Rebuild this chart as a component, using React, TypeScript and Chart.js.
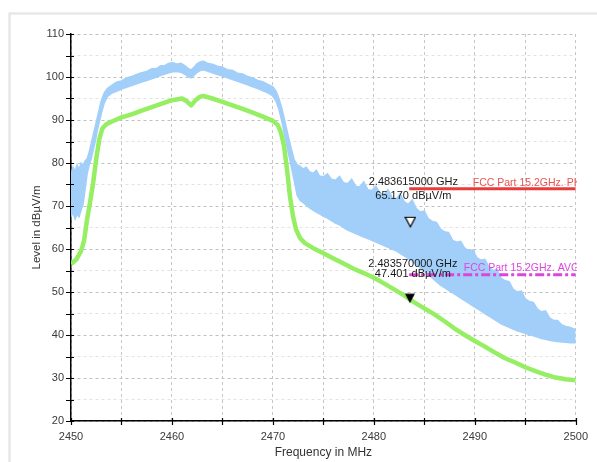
import React, { useEffect, useRef } from 'react';
import { Chart, registerables } from 'chart.js';

Chart.register(...registerables);

// ---- Data ----
const pkFreq = [
  2450.0, 2450.2, 2450.4, 2450.6, 2450.8, 2451.0, 2451.2, 2451.4, 2451.6, 2451.8,
  2452.0, 2452.2, 2452.4, 2452.6, 2452.8, 2453.0, 2453.3, 2453.6, 2454.0, 2454.5,
  2455.0, 2455.5, 2456.0, 2456.5, 2457.0, 2457.5, 2458.0, 2458.5, 2458.9, 2459.3,
  2459.7, 2460.1, 2460.5, 2460.9, 2461.3, 2461.6, 2461.9, 2462.2, 2462.5, 2462.8,
  2463.1, 2463.5, 2464.0, 2464.5, 2465.0, 2465.5, 2466.0, 2466.5, 2467.0, 2467.5,
  2468.0, 2468.5, 2469.0, 2469.5, 2470.0, 2470.3, 2470.6, 2470.9, 2471.2, 2471.5,
  2471.8, 2472.1, 2472.4, 2472.7, 2473.0, 2473.3, 2473.6, 2474.0, 2474.3, 2474.6,
  2475.0, 2475.4, 2475.8, 2476.2, 2476.6, 2477.0, 2477.4, 2477.8, 2478.2, 2478.6,
  2479.0, 2479.4, 2479.8, 2480.2, 2480.6, 2481.0, 2481.4, 2481.8, 2482.2, 2482.6,
  2483.0, 2483.4, 2483.8, 2484.2, 2484.6, 2485.0, 2485.4, 2485.8, 2486.2, 2486.6,
  2487.0, 2487.4, 2487.8, 2488.2, 2488.6, 2489.0, 2489.4, 2489.8, 2490.2, 2490.6,
  2491.0, 2491.4, 2491.8, 2492.2, 2492.6, 2493.0, 2493.4, 2493.8, 2494.2, 2494.6,
  2495.0, 2495.4, 2495.8, 2496.2, 2496.6, 2497.0, 2497.4, 2497.8, 2498.2, 2498.6,
  2499.0, 2499.4, 2499.8, 2500.0,
];
const pkHigh = [
  77.0, 79.0, 78.0, 79.5, 78.5, 80.0, 79.5, 80.5, 81.0, 82.5,
  84.5, 86.5, 88.5, 90.5, 92.5, 94.5, 96.3, 97.3, 98.0, 98.8,
  99.1, 99.8, 100.1, 100.6, 101.0, 101.3, 101.9, 102.0, 102.6, 102.7,
  103.2, 103.3, 103.0, 103.2, 102.6, 102.0, 101.6, 102.3, 103.1, 103.5,
  103.7, 103.2, 103.0, 102.5, 102.3, 101.7, 101.5, 100.9, 100.7, 100.1,
  99.8, 99.2, 98.9, 98.3, 97.7, 96.8, 95.0, 92.6, 89.6, 86.4,
  83.5, 80.8, 79.6, 79.2, 78.6, 79.0, 78.0, 77.6, 78.3, 77.0,
  76.8, 77.5, 76.2, 76.0, 76.9, 75.4, 75.2, 76.2, 74.6, 74.4,
  75.6, 73.8, 73.6, 74.6, 73.0, 72.6, 73.8, 72.0, 71.6, 72.8,
  71.0, 70.4, 71.4, 69.4, 68.6, 68.8, 67.0, 66.4, 66.2, 64.6,
  64.0, 63.8, 62.0, 61.6, 61.8, 60.2, 59.6, 59.8, 58.0, 57.4,
  57.6, 55.8, 55.0, 55.2, 53.2, 52.6, 52.4, 50.6, 50.0, 50.2,
  48.4, 47.8, 47.6, 46.0, 45.4, 45.6, 44.0, 43.4, 43.4, 42.4,
  42.0, 41.8, 41.4, 41.2,
];
const pkLow = [
  67.5, 68.5, 67.0, 68.0, 67.5, 69.0, 70.5, 74.0, 77.5, 79.5,
  81.0, 83.0, 85.0, 87.5, 89.5, 91.5, 94.0, 95.4, 96.2, 96.7,
  97.2, 97.6, 98.0, 98.4, 98.8, 99.2, 99.6, 100.0, 100.4, 100.7,
  101.0, 101.2, 101.3, 101.1, 100.6, 100.1, 99.8, 100.4, 101.1, 101.5,
  101.7, 101.4, 101.0, 100.6, 100.2, 99.8, 99.4, 99.0, 98.6, 98.2,
  97.7, 97.3, 96.8, 96.3, 95.6, 94.4, 92.5, 89.5, 86.0, 82.6,
  79.4, 76.0, 72.5, 71.3, 70.8, 70.2, 69.6, 69.0, 68.6, 68.2,
  67.6, 67.2, 66.6, 66.0, 65.6, 65.0, 64.4, 64.0, 63.6, 63.2,
  62.8, 62.4, 62.0, 61.6, 61.2, 60.8, 60.4, 60.0, 59.6, 59.0,
  58.4, 57.8, 57.2, 56.4, 55.6, 54.8, 54.0, 53.2, 52.4, 51.6,
  51.0, 50.4, 49.8, 49.2, 48.6, 48.0, 47.4, 46.8, 46.2, 45.6,
  45.0, 44.4, 43.8, 43.2, 42.6, 42.2, 41.8, 41.4, 41.0, 40.7,
  40.4, 40.1, 39.8, 39.5, 39.2, 39.0, 38.8, 38.6, 38.5, 38.4,
  38.3, 38.2, 38.2, 38.2,
];

const avgFreq = [
  2450.0, 2450.5, 2451.0, 2451.3, 2451.6, 2451.9, 2452.2, 2452.5, 2452.8, 2453.1,
  2453.5, 2454.0, 2455.0, 2456.0, 2457.0, 2458.0, 2459.0, 2460.0, 2461.0, 2461.5,
  2461.9, 2462.3, 2462.7, 2463.1, 2464.0, 2465.0, 2466.0, 2467.0, 2468.0, 2469.0,
  2470.0, 2470.5, 2470.8, 2471.1, 2471.4, 2471.7, 2472.0, 2472.3, 2472.7, 2473.2,
  2474.0, 2475.0, 2476.0, 2477.0, 2478.0, 2479.0, 2480.0, 2481.0, 2482.0, 2483.0,
  2484.0, 2485.0, 2486.0, 2487.0, 2488.0, 2489.0, 2490.0, 2491.0, 2492.0, 2493.0,
  2494.0, 2495.0, 2496.0, 2497.0, 2498.0, 2499.0, 2500.0,
];
const avgLevel = [
  56.5, 57.5, 59.5, 62.0, 67.0, 71.0, 75.5, 81.0, 85.5, 88.0,
  89.0, 89.6, 90.6, 91.3, 92.2, 93.0, 93.8, 94.6, 95.0, 94.3,
  93.4, 94.5, 95.3, 95.6, 95.0, 94.2, 93.4, 92.6, 91.7, 90.8,
  89.8, 88.8, 87.0, 84.0, 78.5, 72.0, 67.5, 64.5, 62.5, 61.3,
  60.2, 59.0, 57.8, 56.6, 55.4, 54.4, 53.3, 52.0, 50.6, 49.2,
  47.6, 46.2, 44.8, 43.2, 41.5, 40.0, 38.6, 37.3, 35.9, 34.6,
  33.6, 32.5, 31.6, 30.8, 30.1, 29.7, 29.5,
];

const limitFreq = [2483.5, 2500];
const pkLimit = [74, 74];
const avgLimit = [54, 54];
const limitLabels = ['FCC Part 15.2GHz. PK', 'FCC Part 15.2GHz. AVG'];

const markerFreq = [2483.615, 2483.57];
const markerLevel = [65.17, 47.401];
const markerFreqLabels = ['2.483615000 GHz', '2.483570000 GHz'];
const markerLevelLabels = ['65.170 dBµV/m', '47.401 dBµV/m'];

const xMin = 2450, xMax = 2500, xStep = 5;
const yMin = 20, yMax = 110, yStep = 5;
const xTitle = 'Frequency in MHz';
const yTitle = 'Level in dBµV/m';

const FONT = '"Liberation Sans", Arial, sans-serif';
const BLUE = '#a2cff9';
const GREEN = '#96ee62';

function makeTriangle(filled: boolean): HTMLCanvasElement {
  const c = document.createElement('canvas');
  c.width = 12;
  c.height = 22;
  const g = c.getContext('2d')!;
  g.beginPath();
  g.moveTo(1, 1.5);
  g.lineTo(11, 1.5);
  g.lineTo(6, 11);
  g.closePath();
  if (filled) {
    g.fillStyle = '#000';
    g.fill();
  } else {
    g.fillStyle = '#fff';
    g.fill();
    g.lineWidth = 1.2;
    g.strokeStyle = '#000';
    g.stroke();
  }
  return c;
}

const decorPlugin = {
  id: 'decor',
  beforeDraw(chart: any) {
    const { ctx, width, height } = chart;
    ctx.save();
    ctx.fillStyle = '#fff';
    ctx.fillRect(0, 0, width, height);
    ctx.strokeStyle = '#e8e8e8';
    ctx.lineWidth = 2.5;
    ctx.strokeRect(9.5, 13.5, width + 20, height + 20);
    ctx.restore();
  },
  afterDraw(chart: any) {
    const { ctx, chartArea } = chart;
    const xs = chart.scales.x;
    const ys = chart.scales.y;
    ctx.save();
    // axis ticks crossing the axes
    ctx.strokeStyle = '#000';
    ctx.lineWidth = 1.2;
    ctx.beginPath();
    xs.ticks.forEach((t: any) => {
      const px = Math.round(xs.getPixelForValue(t.value)) + 0.5;
      ctx.moveTo(px, chartArea.bottom - 3);
      ctx.lineTo(px, chartArea.bottom + 4);
    });
    ys.ticks.forEach((t: any) => {
      const py = Math.round(ys.getPixelForValue(t.value)) + 0.5;
      ctx.moveTo(chartArea.left - 5, py);
      ctx.lineTo(chartArea.left + 3, py);
    });
    ctx.stroke();

    // marker annotations
    ctx.font = '11px ' + FONT;
    ctx.fillStyle = '#1a1a1a';
    ctx.textAlign = 'center';
    ctx.textBaseline = 'middle';
    const pkLineY = ys.getPixelForValue(pkLimit[0]);
    const avgLineY = ys.getPixelForValue(avgLimit[0]);
    const mx0 = xs.getPixelForValue(markerFreq[0]) + 3;
    const mx1 = xs.getPixelForValue(markerFreq[1]) + 3;
    ctx.fillText(markerFreqLabels[0], mx0, pkLineY - 7);
    ctx.fillText(markerLevelLabels[0], mx0, pkLineY + 7);
    ctx.fillText(markerFreqLabels[1], mx1, avgLineY - 11);
    ctx.fillText(markerLevelLabels[1], mx1, avgLineY - 1);

    // limit labels, clipped at the plot edge
    ctx.beginPath();
    ctx.rect(chartArea.left, chartArea.top, chartArea.right - chartArea.left + 1, chartArea.bottom - chartArea.top);
    ctx.clip();
    ctx.font = '10.5px ' + FONT;
    ctx.textAlign = 'left';
    ctx.fillStyle = '#e85454';
    ctx.fillText(limitLabels[0], chartArea.right - 103, pkLineY - 6);
    ctx.fillStyle = '#e044e0';
    ctx.fillText(limitLabels[1], chartArea.right - 112, avgLineY - 7);
    ctx.restore();
  },
};

export default function App() {
  const ref = useRef<HTMLCanvasElement>(null);

  useEffect(() => {
    if (!ref.current) return;
    Chart.defaults.font.family = FONT;
    const toXY = (xs: number[], ys: number[]) => xs.map((x, i) => ({ x, y: ys[i] }));

    const chart = new Chart(ref.current, {
      type: 'line',
      data: {
        datasets: [
          {
            label: 'PK marker',
            data: [{ x: markerFreq[0], y: markerLevel[0] }],
            showLine: false,
            pointStyle: makeTriangle(false) as any,
            pointRadius: 6,
            order: 0,
          },
          {
            label: 'AVG marker',
            data: [{ x: markerFreq[1], y: markerLevel[1] }],
            showLine: false,
            pointStyle: makeTriangle(true) as any,
            pointRadius: 6,
            order: 0,
          },
          {
            label: 'FCC PK',
            data: toXY(limitFreq, pkLimit),
            borderColor: '#ea3b3b',
            borderWidth: 3,
            pointRadius: 0,
            fill: false,
            order: 1,
          },
          {
            label: 'FCC AVG',
            data: toXY(limitFreq, avgLimit),
            borderColor: '#dd44dd',
            borderWidth: 3,
            borderDash: [9, 3, 3, 3],
            pointRadius: 0,
            fill: false,
            order: 1,
          },
          {
            label: 'AVG',
            data: toXY(avgFreq, avgLevel),
            borderColor: GREEN,
            borderWidth: 4.5,
            pointRadius: 0,
            fill: false,
            borderJoinStyle: 'round',
            order: 2,
          },
          {
            label: 'PK high',
            data: toXY(pkFreq, pkHigh),
            borderColor: BLUE,
            backgroundColor: BLUE,
            borderWidth: 1.5,
            pointRadius: 0,
            fill: '+1',
            order: 3,
          },
          {
            label: 'PK low',
            data: toXY(pkFreq, pkLow),
            borderColor: BLUE,
            borderWidth: 1.5,
            pointRadius: 0,
            fill: false,
            order: 4,
          },
        ],
      },
      options: {
        animation: false,
        responsive: false,
        devicePixelRatio: 1,
        layout: { padding: { left: 0, right: 19.5, top: 34, bottom: 0 } },
        plugins: {
          legend: { display: false },
          tooltip: { enabled: false },
        },
        scales: {
          x: {
            type: 'linear',
            min: xMin,
            max: xMax,
            afterFit: (s: any) => { s.height = 41; },
            ticks: {
              stepSize: xStep,
              autoSkip: false,
              maxRotation: 0,
              padding: 9,
              color: '#3a3a3a',
              font: { size: 11, family: FONT },
              callback: (v: any) => (Number(v) % 10 === 0 ? String(v) : ''),
            },
            grid: { color: '#c6c6c6', lineWidth: 1, drawTicks: false },
            border: { display: true, color: '#000', width: 1.5, dash: [3, 3] },
            title: {
              display: true,
              text: xTitle,
              color: '#333',
              font: { size: 12, family: FONT },
              padding: { top: 0, bottom: 2 },
            },
          },
          y: {
            type: 'linear',
            min: yMin,
            max: yMax,
            afterFit: (s: any) => { s.width = 71; },
            ticks: {
              stepSize: yStep,
              autoSkip: false,
              padding: 7,
              color: '#3a3a3a',
              font: { size: 11, family: FONT },
              callback: (v: any) => (Number(v) % 10 === 0 ? String(v) : ''),
            },
            grid: {
              color: (c: any) => (c.tick && c.tick.value % 10 === 0 ? '#c0c0c0' : '#e2e2e2'),
              lineWidth: 1,
              drawTicks: false,
            },
            border: { display: true, color: '#000', width: 1.5, dash: [3, 3] },
            title: {
              display: true,
              text: yTitle,
              color: '#333',
              font: { size: 11.5, family: FONT },
              padding: { top: 30, bottom: 0 },
            },
          },
        },
      },
      plugins: [decorPlugin],
    } as any);

    return () => chart.destroy();
  }, []);

  return (
    <div style={{ position: 'absolute', left: 0, top: 0, width: 597, height: 462 }}>
      <canvas ref={ref} width={597} height={462} style={{ display: 'block' }} />
    </div>
  );
}
